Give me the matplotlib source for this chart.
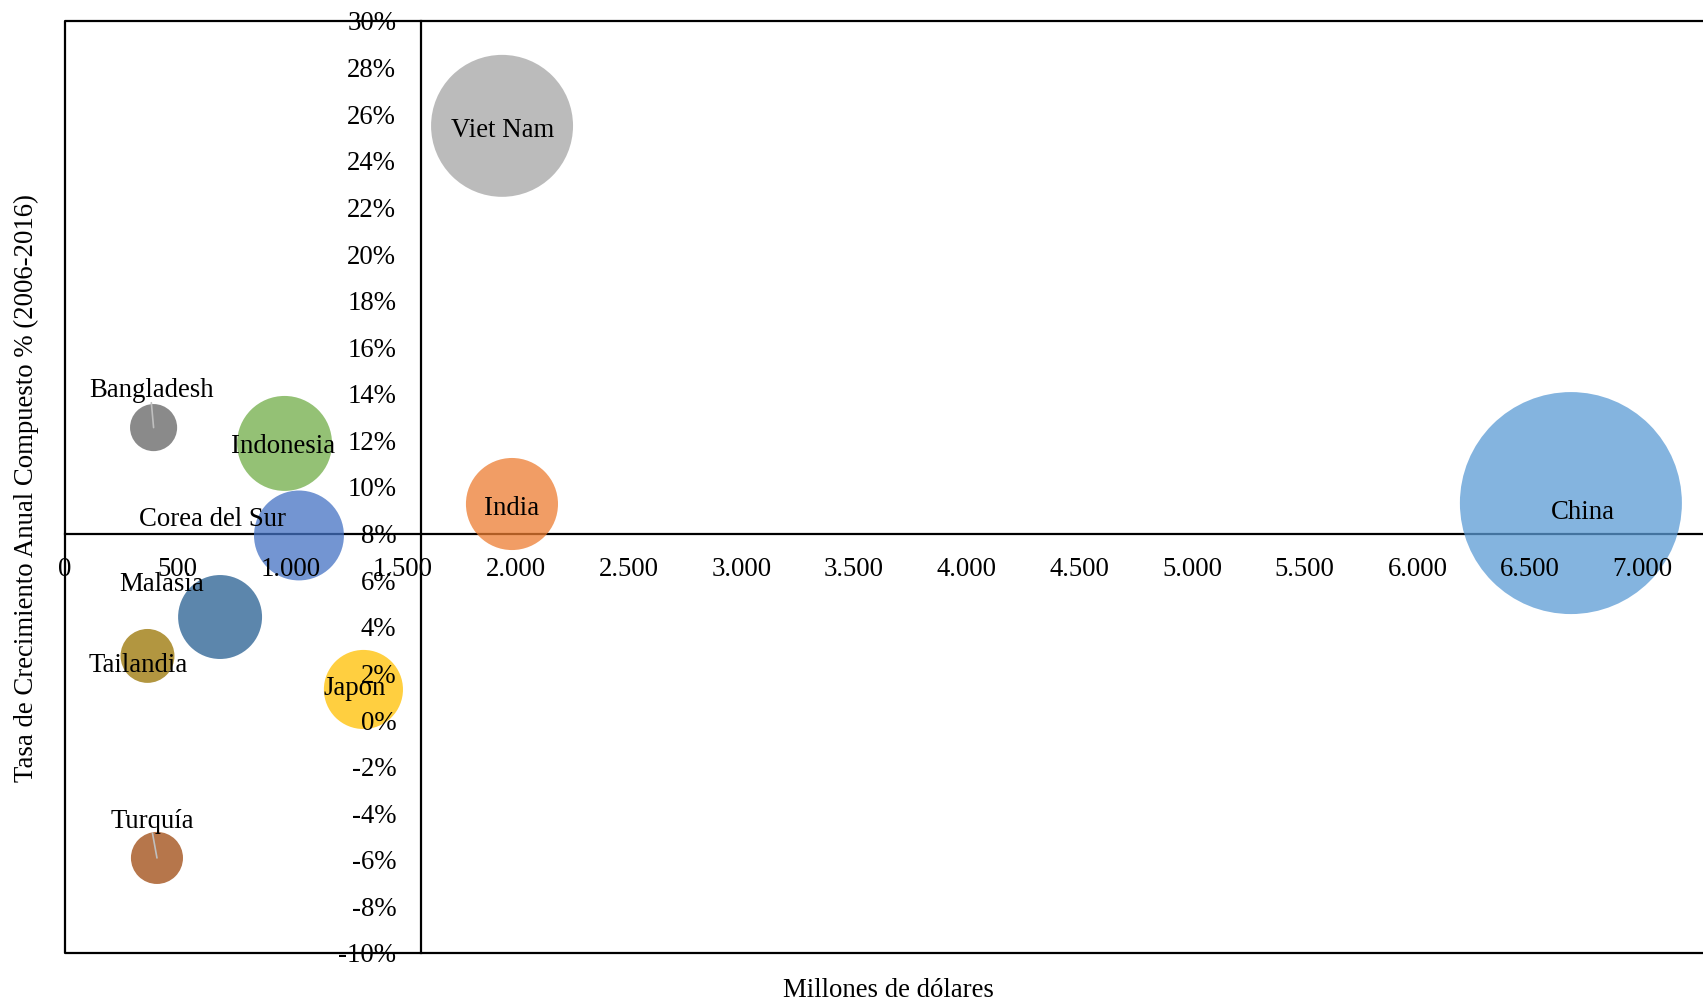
import matplotlib
matplotlib.use("Agg")

import matplotlib.pyplot as plt
from matplotlib.ticker import FuncFormatter

plt.rcParams["font.family"] = ["Liberation Serif", "DejaVu Serif"]

# ── Data ─────────────────────────────────────────────────────────────────────
paises   = ["China", "Viet Nam", "Indonesia", "India", "Corea del Sur",
            "Malasia", "Japon", "Tailandia", "Turquía", "Bangladesh"]
millones = [6681, 1939, 974, 1983, 1038, 688, 1324, 366, 408, 393]
tcac     = [9.31, 25.5, 11.87, 9.27, 7.92, 4.42, 1.31, 2.75, -5.92, 12.55]
tamano   = [100, 40.9, 18.3, 17.2, 16.4, 14.3, 12.7, 5.9, 5.5, 4.5]

y_ticks = list(range(-10, 31, 2))
x_ticks = list(range(0, 7001, 500))

# ── Style ───────────────────────────────────────────────────────────────────
colores = ["#5B9BD5", "#A5A5A5", "#70AD47", "#ED7D31", "#4472C4",
           "#255E91", "#FFC000", "#997300", "#9E480E", "#636363"]
# label offsets from bubble centre, in points
offsets = {
    "China": (8.6, -6.6), "Viet Nam": (0.7, -3.6), "India": (0, -3.1),
    "Indonesia": (-1, -2.4), "Corea del Sur": (-62, 11.8),
    "Bangladesh": (-1.8, 26.4), "Malasia": (-41.8, 23.4),
    "Tailandia": (-6.8, -6.6), "Japon": (-6.1, 0.9), "Turquía": (-3.6, 26.4),
}
leader = {"Bangladesh", "Turquía"}
FS = 19.3
DPI = 100
W, H = 1703, 998
max_diam_pt = 2 * 111 * 72 / DPI

fig = plt.figure(figsize=(W / DPI, H / DPI), dpi=DPI)
ax = fig.add_axes([65 / W, (H - 953) / H, (W - 65) / W, (953 - 21) / H])

ax.set_xlim(0, (W - 65) / 0.2254)
ax.set_ylim(-10, 30)

sizes = [t / max(tamano) * max_diam_pt ** 2 for t in tamano]
ax.scatter(millones, tcac, s=sizes, c=colores, alpha=0.75,
           linewidths=0, zorder=3)

for name, x, y in zip(paises, millones, tcac):
    dx, dy = offsets[name]
    ax.annotate(name, (x, y), xytext=(dx, dy), textcoords="offset points",
                ha="center", va="center", fontsize=FS, zorder=6)
    if name in leader:
        ax.annotate("", (x, y), xytext=(dx * 0.9, dy - 8.5),
                    textcoords="offset points", zorder=5,
                    arrowprops=dict(arrowstyle="-", color="#BFBFBF", lw=1.2,
                                    shrinkA=0, shrinkB=0))

# crossing axes
ax.spines["left"].set_position(("data", 1580))
ax.spines["bottom"].set_position(("data", 8))
ax.spines["top"].set_visible(False)
ax.spines["right"].set_visible(False)
for s in ("left", "bottom"):
    ax.spines[s].set_linewidth(1.6)
    ax.spines[s].set_zorder(1)

# outer frame (right edge runs off the picture)
ax.plot([1, 0, 0, 1], [1, 1, 0, 0], transform=ax.transAxes, color="black",
        lw=1.6, clip_on=False, zorder=1)

ax.set_xticks(x_ticks)
ax.set_yticks(y_ticks)
ax.xaxis.set_major_formatter(FuncFormatter(lambda v, p: f"{v:,.0f}".replace(",", ".")))
ax.yaxis.set_major_formatter(FuncFormatter(lambda v, p: f"{v:.0f}%"))
ax.tick_params(axis="x", length=0, pad=16.5, labelsize=FS)
ax.tick_params(axis="y", length=0, pad=18, labelsize=FS)
ax.xaxis.set_zorder(4)
ax.yaxis.set_zorder(4)

fig.text(888 / W, 1 - 978 / H, "Millones de dólares", ha="center", va="top",
         fontsize=FS)
fig.text(26 / W, 1 - 488 / H, "Tasa de Crecimiento Anual Compuesto % (2006-2016)",
         ha="center", va="center", rotation=90, fontsize=FS)

fig.savefig("out.png", dpi=DPI)
plt.close(fig)
